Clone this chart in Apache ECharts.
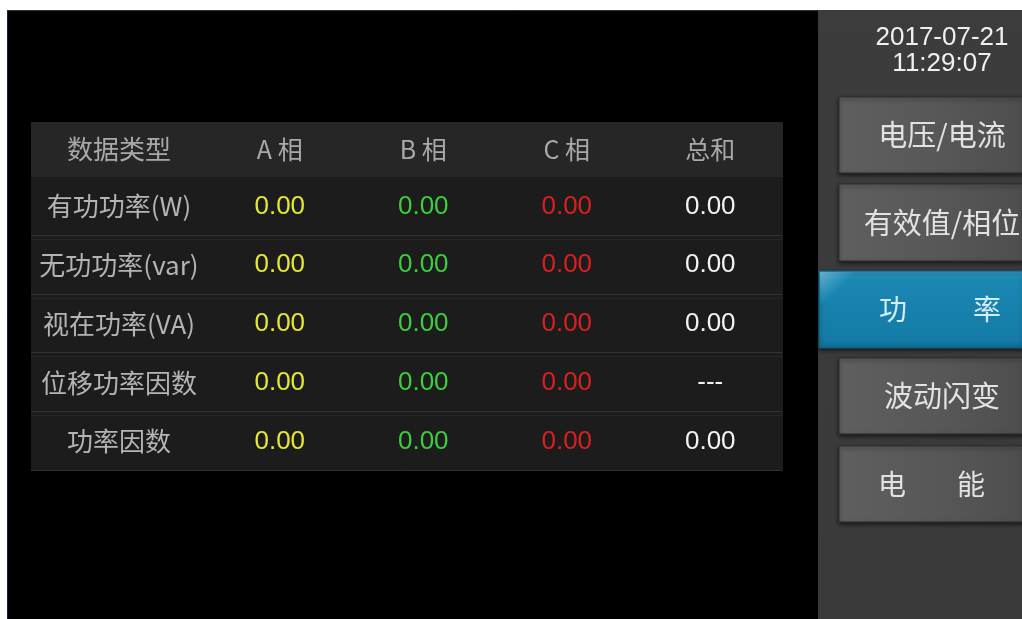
<!DOCTYPE html>
<html>
<head>
<meta charset="utf-8">
<script src="https://cdn.jsdelivr.net/npm/echarts@6/dist/echarts.min.js"></script>
<style>
html,body{margin:0;padding:0;background:#fff;}
#c{width:1022px;height:619px;}
</style>
</head>
<body>
<div id="c"></div>
<script>
// ---- data ----
const headerFirst = '数据类型';
const colNames = ['A 相', 'B 相', 'C 相', '总和'];
const rowNames = ['有功功率(W)', '无功功率(var)', '视在功率(VA)', '位移功率因数', '功率因数'];
const phaseA = ['0.00', '0.00', '0.00', '0.00', '0.00'];
const phaseB = ['0.00', '0.00', '0.00', '0.00', '0.00'];
const phaseC = ['0.00', '0.00', '0.00', '0.00', '0.00'];
const total  = ['0.00', '0.00', '0.00', '---', '0.00'];
const colColors = ['#e6e638', '#3ccc3c', '#d82020', '#f2f2f2'];
const dateText = '2017-07-21';
const timeText = '11:29:07';
const buttonLabels = [['电压/电流'], ['有效值/相位'], ['功', '率'], ['波动闪变'], ['电', '能']];
const activeButton = 2;

// ---- build ----
const columns = [phaseA, phaseB, phaseC, total];
const cells = [];
columns.forEach((col, c) => col.forEach((v, r) => cells.push([c, r])));

const LABEL_W = 177;
const CJK = '"Noto Sans CJK SC", "Noto Sans", sans-serif';
const LAT = '"Liberation Sans", Arial, sans-serif';

const chart = echarts.init(document.getElementById('c'), null, {renderer: 'canvas'});

// sidebar graphics
const side = [];
side.push({type: 'rect', z: -5, shape: {x: 818, y: 10, width: 204, height: 609},
  style: {fill: new echarts.graphic.LinearGradient(0, 0, 0, 1, [
    {offset: 0, color: '#3c3c3c'}, {offset: 1, color: '#3a3a3a'}])}});
side.push({type: 'text', z: 50, style: {text: dateText, x: 942, y: 38, align: 'center', verticalAlign: 'middle',
  font: '26px ' + LAT, fill: '#f0f0f0'}});
side.push({type: 'text', z: 50, style: {text: timeText, x: 942, y: 64, align: 'center', verticalAlign: 'middle',
  font: '26px ' + LAT, fill: '#f0f0f0'}});
const btnY = [97, 184, 271, 358, 446];
const btnH = [76, 77, 77, 76, 76];
const partX = {2: [893, 987], 4: [892, 971]};
buttonLabels.forEach((parts, i) => {
  const active = i === activeButton;
  const x0 = active ? 819 : 839;
  side.push({type: 'rect', z: -4, shape: {x: x0, y: btnY[i], width: 1022 - x0 + 2, height: btnH[i]},
    style: {
      fill: active
        ? new echarts.graphic.LinearGradient(0, 0, 0, 1, [
            {offset: 0, color: '#2f9cc6'}, {offset: 0.12, color: '#1a87b2'},
            {offset: 0.9, color: '#137ba6'}, {offset: 1, color: '#0f6a90'}])
        : new echarts.graphic.LinearGradient(0, 0, 1, 0, [
            {offset: 0, color: '#5f5f5f'}, {offset: 0.5, color: '#585858'}, {offset: 1, color: '#4e4e4e'}]),
      stroke: active ? '#0c5f80' : '#2f2f2f', lineWidth: 1,
      shadowColor: 'rgba(0,0,0,0.6)', shadowBlur: 4, shadowOffsetY: 2
    }});
  if (active) {
    side.push({type: 'rect', z: -3, shape: {x: 820, y: 272, width: 202, height: 75},
      style: {fill: new echarts.graphic.LinearGradient(0, 0, 0.35, 1, [
        {offset: 0, color: 'rgba(150,210,235,0.55)'}, {offset: 0.25, color: 'rgba(150,210,235,0)'},
        {offset: 1, color: 'rgba(150,210,235,0)'}])}});
  }
  const cy = btnY[i] + btnH[i] / 2;
  const color = active ? '#d4edf8' : '#e2e2e2';
  if (parts.length === 1) {
    side.push({type: 'text', z: 50, style: {text: parts[0], x: 942, y: cy, align: 'center', verticalAlign: 'middle',
      font: '29px ' + CJK, fill: color}});
  } else {
    parts.forEach((p, k) => side.push({type: 'text', z: 50, style: {text: p, x: partX[i][k], y: cy,
      align: 'center', verticalAlign: 'middle', font: '28px ' + CJK, fill: color}}));
  }
});

const option = {
  backgroundColor: '#000',
  animation: false,
  grid: {left: 208, right: 240, top: 177, bottom: 148},
  xAxis: {
    type: 'category', data: colNames, position: 'top',
    axisLine: {show: false}, axisTick: {show: false}, splitLine: {show: false},
    axisLabel: {color: '#a9a9a9', fontSize: 25, fontFamily: CJK, margin: 28, verticalAlign: 'middle'}
  },
  yAxis: {
    type: 'category', data: rowNames, inverse: true,
    axisLine: {show: false}, axisTick: {show: false}, splitLine: {show: false},
    axisLabel: {color: '#b4b4b4', fontSize: 26, fontFamily: CJK, margin: 89, align: 'center'}
  },
  graphic: {elements: [
    {type: 'rect', z: -10, shape: {x: 0, y: 0, width: 1022, height: 10}, style: {fill: '#ffffff'}},
    {type: 'rect', z: -10, shape: {x: 0, y: 0, width: 7, height: 619}, style: {fill: '#ffffff'}},
    {type: 'line', z: -9, shape: {x1: 7.5, y1: 10, x2: 7.5, y2: 619}, style: {stroke: '#1c2438', lineWidth: 1}},
    {type: 'line', z: -9, shape: {x1: 7, y1: 10.5, x2: 1022, y2: 10.5}, style: {stroke: '#2a3248', lineWidth: 1}},
    {type: 'rect', z: -10, shape: {x: 31, y: 122, width: 752, height: 55}, style: {fill: '#262626'}},
    {type: 'rect', z: -10, shape: {x: 31, y: 177, width: 752, height: 294}, style: {fill: '#1c1c1c'}},
    {type: 'text', z: 10, style: {text: headerFirst, x: 119, y: 149, align: 'center', verticalAlign: 'middle',
      font: '26px ' + CJK, fill: '#a9a9a9'}}
  ].concat(side)},
  series: [{
    type: 'custom',
    coordinateSystem: 'cartesian2d',
    data: cells,
    encode: {x: 0, y: 1},
    renderItem: function (params, api) {
      const c = api.value(0), r = api.value(1);
      const p = api.coord([c, r]);
      const s = api.size([1, 1]);
      const children = [{
        type: 'text',
        style: {text: columns[c][r], x: p[0], y: p[1], align: 'center', verticalAlign: 'middle',
          font: '26px ' + LAT, fill: colColors[c]}
      }];
      if (c === 0) {
        const left = p[0] - s[0] / 2 - LABEL_W;
        const right = p[0] - s[0] / 2 + s[0] * columns.length;
        const yb = Math.round(p[1] + s[1] / 2);
        children.push({type: 'line', shape: {x1: left, y1: yb - 0.5, x2: right, y2: yb - 0.5},
          style: {stroke: '#323232', lineWidth: 1}});
        if (r < rowNames.length - 1) {
          children.push({type: 'line', shape: {x1: left, y1: yb + 3.5, x2: right, y2: yb + 3.5},
            style: {stroke: '#262626', lineWidth: 1}});
        }
      }
      return {type: 'group', children: children};
    }
  }]
};
chart.setOption(option);
</script>
</body>
</html>
